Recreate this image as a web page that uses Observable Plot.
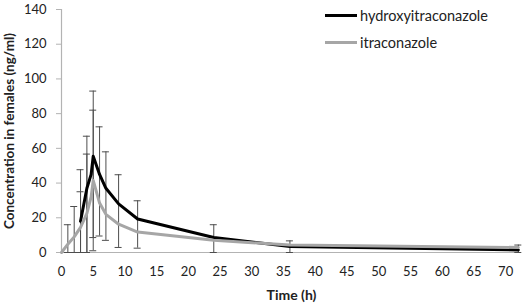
<!DOCTYPE html>
<html>
<head>
<meta charset="utf-8">
<script src="https://cdn.jsdelivr.net/npm/d3@7"></script>
<script src="https://cdn.jsdelivr.net/npm/@observablehq/plot@0.6"></script>
<style>
  html, body { margin: 0; padding: 0; background: #fff; }
  #wrap { position: relative; width: 526px; height: 304px; font-family: Lato, sans-serif; }
  .leg { position: absolute; left: 325px; display: flex; align-items: center; font-size: 14.5px; color: #222; }
  .leg .sw { width: 32px; height: 0; margin-right: 3px; }
</style>
</head>
<body>
<div id="wrap"></div>
<script>
// Series: hydroxyitraconazole (black)
const hydroxyTimes  = [3, 4, 4.67, 5, 6, 7, 9, 12, 24, 36, 72];
const hydroxyValues = [18, 37, 45, 55.5, 45, 37, 28, 19.3, 8.6, 3.5, 1.5];
// Series: itraconazole (gray)
const itraTimes  = [0, 1, 2, 3, 4, 4.67, 5, 6, 7, 9, 12, 24, 36, 72];
const itraValues = [0, 4.8, 9, 14.5, 22.5, 32, 41.5, 28.5, 22, 16.3, 11.8, 7, 4.3, 2.9];
// Error bars
const errTimes = [1, 2, 3, 3, 4, 4, 5, 5, 6, 7, 9, 12, 24, 36, 72];
const errLow   = [0, 0, 0, 0, 0, 0, 8.6, 1, 9.5, 7, 2.9, 2.5, 0, 0, 0];
const errHigh  = [16, 26.5, 47.7, 35, 67, 56.7, 93, 82, 72.4, 58, 44.8, 29.8, 16, 6.7, 4.3];
// Ticks and labels
const xTicks = [0, 5, 10, 15, 20, 25, 30, 35, 40, 45, 50, 55, 60, 65, 70];
const yTicks = [0, 20, 40, 60, 80, 100, 120, 140];
const xTitle = "Time (h)";
const yTitle = "Concentration in females (ng/ml)";
const seriesNames = ["hydroxyitraconazole", "itraconazole"];
const seriesColors = ["#000000", "#a6a6a6"];

const hydroxy = hydroxyTimes.map((t, i) => ({t, v: hydroxyValues[i]}));
const itra = itraTimes.map((t, i) => ({t, v: itraValues[i]}));
const errs = errTimes.map((t, i) => ({t, lo: errLow[i], hi: errHigh[i]}));

const axisGray = "#b3b3b3";
const errColor = "#4d4d4d";

const chart = Plot.plot({
  width: 526,
  height: 304,
  marginLeft: 61,
  marginRight: 5,
  marginTop: 9,
  marginBottom: 52,
  style: {fontFamily: "Lato, sans-serif", fontSize: "13px", background: "#fff"},
  x: {domain: [0, 72.5]},
  y: {domain: [0, 140]},
  marks: [
    Plot.ruleY([0], {stroke: axisGray, strokeWidth: 1.2}),
    Plot.ruleX([0], {stroke: axisGray, strokeWidth: 1.2}),
    Plot.axisX({ticks: xTicks, tickSize: 0, tickPadding: 14, label: null, fill: "#222", fontSize: 13}),
    Plot.axisY({ticks: yTicks, tickSize: 5, tickPadding: 10, label: null, stroke: axisGray, fill: "#222", fontSize: 13}),
    Plot.ruleX(errs, {x: "t", y1: "lo", y2: "hi", stroke: errColor, strokeWidth: 1}),
    Plot.ruleY(errs, {y: "hi", x1: "t", x2: "t", insetLeft: -3.5, insetRight: -3.5, stroke: errColor, strokeWidth: 1}),
    Plot.ruleY(errs, {y: "lo", x1: "t", x2: "t", insetLeft: -3.5, insetRight: -3.5, stroke: errColor, strokeWidth: 1}),
    Plot.line(hydroxy, {x: "t", y: "v", stroke: seriesColors[0], strokeWidth: 3}),
    Plot.line(itra, {x: "t", y: "v", stroke: seriesColors[1], strokeWidth: 3}),
    Plot.text([xTitle], {frameAnchor: "bottom", dy: 43, lineAnchor: "middle", fontWeight: "bold", fontSize: 14, fill: "#222"}),
    Plot.text([yTitle], {frameAnchor: "left", dx: -52, rotate: -90, lineAnchor: "middle", textAnchor: "middle", fontWeight: "bold", fontSize: 13.5, fill: "#222"})
  ]
});

const wrap = document.getElementById("wrap");
wrap.appendChild(chart);

const legTops = [15, 42.5];
seriesNames.forEach((name, i) => {
  const row = document.createElement("div");
  row.className = "leg";
  row.style.top = (legTops[i] - 10) + "px";
  row.style.height = "20px";
  const sw = document.createElement("span");
  sw.className = "sw";
  sw.style.borderTop = "3px solid " + seriesColors[i];
  const tx = document.createElement("span");
  tx.textContent = name;
  row.appendChild(sw);
  row.appendChild(tx);
  wrap.appendChild(row);
});
</script>
</body>
</html>
